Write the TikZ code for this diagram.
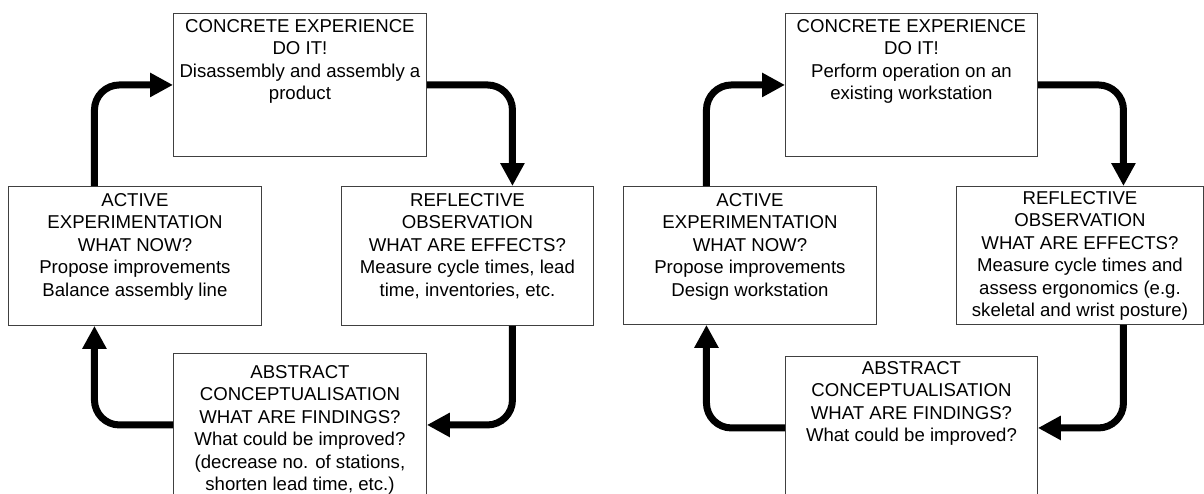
\documentclass[tikz,border=0pt]{standalone}
\usepackage{fontspec}
\setmainfont{Liberation Sans}
\usetikzlibrary{arrows.meta}
\begin{document}
\begin{tikzpicture}[x=1pt,y=-1pt,
  box/.style={draw=black!75, line width=0.9pt, anchor=north west, inner sep=0pt},
  txt/.style={anchor=north, align=center, inner sep=0pt, font=\fontsize{18.6}{22.5}\selectfont, execute at begin node=\strut},
  flow/.style={line width=7pt, rounded corners=25pt, -{Triangle[length=23pt,width=23pt]}},
]
\useasboundingbox (0,0) rectangle (1204,493);
\clip (0,0) rectangle (1204,493);
% ---------- left cycle ----------
\node[box, minimum width=253pt, minimum height=143pt] (ce) at (173,13) {};
\node[box, minimum width=253pt, minimum height=139pt] (ae) at (8,186) {};
\node[box, minimum width=252pt, minimum height=139pt] (ro) at (341,186) {};
\node[box, minimum width=253pt, minimum height=143pt] (ac) at (173,353) {};
\node[txt] (cet) at ([yshift=-5.9pt]ce.north) {CONCRETE EXPERIENCE\\DO IT!\\Disassembly and assembly a\\product};
\node[txt] (aet) at ([yshift=-6.9pt]ae.north) {ACTIVE\\EXPERIMENTATION\\WHAT NOW?\\Propose improvements\\Balance assembly line};
\node[txt] (rot) at ([yshift=-6.9pt]ro.north) {REFLECTIVE\\OBSERVATION\\WHAT ARE EFFECTS?\\Measure cycle times, lead\\time, inventories, etc.};
\node[txt] (act) at ([yshift=-12pt]ac.north) {ABSTRACT\\CONCEPTUALISATION\\WHAT ARE FINDINGS?\\What could be improved?\\(decrease no. of stations,\\shorten lead time, etc.)};
\draw[flow] ([xshift=-40.5pt]ae.north) |- (ce.west);
\draw[flow] (ce.east) -| ([xshift=45pt]ro.north);
\draw[flow] ([xshift=45pt]ro.south) |- (ac.east);
\draw[flow] (ac.west) -| ([xshift=-40.5pt]ae.south);
% ---------- right cycle ----------
\node[box, minimum width=252pt, minimum height=143pt] (ce2) at (785,13) {};
\node[box, minimum width=253pt, minimum height=138pt] (ae2) at (623,186) {};
\node[box, minimum width=247pt, minimum height=138pt] (ro2) at (956,186) {};
\node[box, minimum width=252pt, minimum height=143pt] (ac2) at (785,356) {};
\node[txt] (ce2t) at ([yshift=-5.9pt]ce2.north) {CONCRETE EXPERIENCE\\DO IT!\\Perform operation on an\\existing workstation};
\node[txt] (ae2t) at ([yshift=-6.9pt]ae2.north) {ACTIVE\\EXPERIMENTATION\\WHAT NOW?\\Propose improvements\\Design workstation};
\node[txt] (ro2t) at ([yshift=-4.9pt]ro2.north) {REFLECTIVE\\OBSERVATION\\WHAT ARE EFFECTS?\\Measure cycle times and\\assess ergonomics (e.g.\\skeletal and wrist posture)};
\node[txt] (ac2t) at ([yshift=-4.9pt]ac2.north) {ABSTRACT\\CONCEPTUALISATION\\WHAT ARE FINDINGS?\\What could be improved?};
\draw[flow] ([xshift=-43.5pt]ae2.north) |- (ce2.west);
\draw[flow] (ce2.east) -| ([xshift=43.5pt]ro2.north);
\draw[flow] ([xshift=43.5pt]ro2.south) |- (ac2.east);
\draw[flow] (ac2.west) -| ([xshift=-43.5pt]ae2.south);
\end{tikzpicture}
\end{document}
